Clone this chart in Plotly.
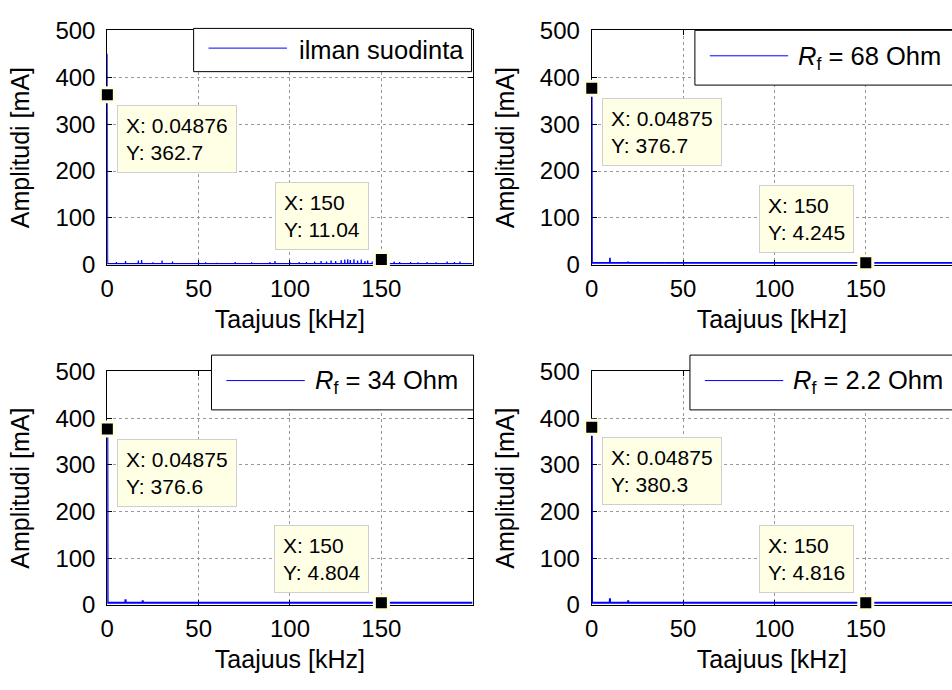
import plotly.graph_objects as go

W, H = 952, 690

# ---- spectra: frequency [kHz] and amplitude [mA] ----
f_ilman = [0, 0.04876, 0.2,
           4.9, 5.0, 5.1, 9.9, 10.0, 10.1, 16.9, 17.0, 17.1, 18.7, 18.8, 18.9,
           24.9, 25.0, 25.1, 29.9, 30.0, 30.1, 35.6, 35.7, 35.8, 49.9, 50.0, 50.1,
           53.7, 53.8, 53.9, 59.9, 60.0, 60.1, 69.9, 70.0, 70.1, 78.9, 79.0, 79.1,
           88.9, 89.0, 89.1, 91.7, 91.8, 91.9, 99.9, 100.0, 100.1, 104.9, 105.0, 105.1,
           108.9, 109.0, 109.1, 113.4, 113.5, 113.6, 116.9, 117.0, 117.1, 119.9, 120.0, 120.1,
           122.4, 122.5, 122.6, 124.9, 125.0, 125.1, 127.9, 128.0, 128.1, 129.9, 130.0, 130.1,
           131.5, 131.6, 131.7, 132.9, 133.0, 133.1, 134.9, 135.0, 135.1, 136.9, 137.0, 137.1,
           138.9, 139.0, 139.1, 140.9, 141.0, 141.1, 142.4, 142.5, 142.6, 144.9, 145.0, 145.1,
           149.9, 150.0, 150.1, 156.9, 157.0, 157.1, 159.9, 160.0, 160.1, 165.9, 166.0, 166.1,
           169.9, 170.0, 170.1, 174.9, 175.0, 175.1, 179.9, 180.0, 180.1, 185.9, 186.0, 186.1,
           189.9, 190.0, 190.1, 192.9, 193.0, 193.1, 199.9]
a_ilman = [450, 362.7, 2.5,
           2.5, 6, 2.5, 2.5, 8, 2.5, 2.5, 9, 2.5, 2.5, 10, 2.5,
           2.5, 5, 2.5, 2.5, 9, 2.5, 2.5, 7, 2.5, 2.5, 6, 2.5,
           2.5, 5, 2.5, 2.5, 4, 2.5, 2.5, 6, 2.5, 2.5, 5, 2.5,
           2.5, 6, 2.5, 2.5, 8, 2.5, 2.5, 5, 2.5, 2.5, 6, 2.5,
           2.5, 6, 2.5, 2.5, 7, 2.5, 2.5, 8, 2.5, 2.5, 7, 2.5,
           2.5, 9, 2.5, 2.5, 8, 2.5, 2.5, 10, 2.5, 2.5, 11, 2.5,
           2.5, 12, 2.5, 2.5, 10, 2.5, 2.5, 12, 2.5, 2.5, 9, 2.5,
           2.5, 11, 2.5, 2.5, 8, 2.5, 2.5, 9, 2.5, 2.5, 7, 2.5,
           2.5, 11.04, 2.5, 2.5, 7, 2.5, 2.5, 6, 2.5, 2.5, 6, 2.5,
           2.5, 5, 2.5, 2.5, 6, 2.5, 2.5, 5, 2.5, 2.5, 7, 2.5,
           2.5, 6, 2.5, 2.5, 7, 2.5, 2.5]

f_68 = [0, 0.04875, 0.2, 9.9, 10.0, 10.1, 19.9, 20.0, 20.1, 29.9, 30.0, 30.1,
        39.9, 40.0, 40.1, 149.9, 150.0, 150.1, 199.9]
a_68 = [5, 376.7, 4, 4, 15, 4, 4, 7, 4, 4, 5.5, 4,
        4, 5, 4, 4, 4.245, 4, 4]

f_34 = [0, 0.04875, 0.2, 9.9, 10.0, 10.1, 19.3, 19.4, 19.5, 30.7, 30.8, 30.9,
        49.9, 50.0, 50.1, 69.9, 70.0, 70.1, 99.9, 100.0, 100.1, 131.5, 131.6, 131.7,
        149.9, 150.0, 150.1, 170.5, 170.6, 170.7, 199.9]
a_34 = [5, 376.6, 4.8, 4.8, 12, 4.8, 4.8, 10, 4.8, 4.8, 6.5, 4.8,
        4.8, 6, 4.8, 4.8, 6.5, 4.8, 4.8, 6, 4.8, 4.8, 6.5, 4.8,
        4.8, 4.804, 4.8, 4.8, 6.5, 4.8, 4.8]

f_22 = [0, 0.04875, 0.2, 9.9, 10.0, 10.1, 19.9, 20.0, 20.1, 29.9, 30.0, 30.1,
        49.9, 50.0, 50.1, 68.9, 69.0, 69.1, 99.9, 100.0, 100.1, 129.9, 130.0, 130.1,
        149.9, 150.0, 150.1, 169.9, 170.0, 170.1, 199.9]
a_22 = [5, 380.3, 4.8, 4.8, 14, 4.8, 4.8, 10, 4.8, 4.8, 6.5, 4.8,
        4.8, 6, 4.8, 4.8, 6.5, 4.8, 4.8, 6, 4.8, 4.8, 6.5, 4.8,
        4.8, 4.816, 4.8, 4.8, 6.5, 4.8, 4.8]

# data cursor points (x, y, x label, y label)
tips_ilman = [(0.04876, 362.7, "0.04876", "362.7"), (150, 11.04, "150", "11.04")]
tips_68 = [(0.04875, 376.7, "0.04875", "376.7"), (150, 4.245, "150", "4.245")]
tips_34 = [(0.04875, 376.6, "0.04875", "376.6"), (150, 4.804, "150", "4.804")]
tips_22 = [(0.04875, 380.3, "0.04875", "380.3"), (150, 4.816, "150", "4.816")]

legend_names = ["ilman suodinta",
                "<i>R</i><sub>f</sub> = 68 Ohm",
                "<i>R</i><sub>f</sub> = 34 Ohm",
                "<i>R</i><sub>f</sub> = 2.2 Ohm"]

x_ticks = [0, 50, 100, 150]
y_ticks = [0, 100, 200, 300, 400, 500]

FONT = "Arial, Liberation Sans, Helvetica, sans-serif"
BLUE = "#0000ff"
TIP_BG = "#ffffe6"
TICK_SIZE = 24
LABEL_SIZE = 25
LEGEND_SIZE = 25.5
TIP_SIZE = 21


def px(xpx):
    return xpx / W


def py(ypx):
    return 1 - ypx / H


# panel geometry in pixels: left, right, top, bottom
cols = [(101, 469), (589, 952)]
rows = [(17, 261), (372, 615)]
XMAX_FULL = 199.9
scale = (cols[0][1] - cols[0][0]) / XMAX_FULL

panels = [
    dict(f=f_ilman, a=a_ilman, tips=tips_ilman, col=0, row=0, lw=1.2,
         leg=(188, 468, 15, 60), legline=(203, 282), legtext=292),
    dict(f=f_68, a=a_68, tips=tips_68, col=1, row=0, lw=1.6,
         leg=(693, 960, 17, 74), legline=(708, 787), legtext=795),
    dict(f=f_34, a=a_34, tips=tips_34, col=0, row=1, lw=2,
         leg=(206, 470, 355, 412), legline=(221, 300), legtext=308),
    dict(f=f_22, a=a_22, tips=tips_22, col=1, row=1, lw=2,
         leg=(688, 960, 355, 412), legline=(703, 782), legtext=790),
]

fig = go.Figure()
shapes = []
annotations = []

for i, p in enumerate(panels):
    n = "" if i == 0 else str(i + 1)
    xa, ya = "x" + n, "y" + n
    left, right = cols[p["col"]]
    top, bottom = rows[p["row"]]
    xmax = (right - left) / scale

    fig.add_trace(go.Scatter(
        x=p["f"], y=p["a"], mode="lines", name=legend_names[i],
        line=dict(color=BLUE, width=p["lw"]), xaxis=xa, yaxis=ya,
        showlegend=False, hoverinfo="skip", cliponaxis=False))

    tx = [t[0] for t in p["tips"]]
    ty = [t[1] for t in p["tips"]]
    fig.add_trace(go.Scatter(
        x=tx, y=ty, mode="markers", xaxis=xa, yaxis=ya, showlegend=False,
        hoverinfo="skip", cliponaxis=False,
        marker=dict(symbol="square", size=14, color="black",
                    line=dict(color=TIP_BG, width=3))))

    axis_common = dict(showgrid=True, gridcolor="#999999", griddash="dot",
                       gridwidth=1, zeroline=False, showline=True,
                       linecolor="black", linewidth=1, ticks="inside",
                       ticklen=5, tickcolor="black", layer="below traces",
                       tickfont=dict(family=FONT, size=TICK_SIZE, color="black"))
    fig.update_layout(**{
        ("xaxis" + n): dict(
            axis_common, domain=[px(left), min(px(right), 1.0)],
            anchor=ya, range=[0, xmax], tickvals=x_ticks,
            mirror="ticks", ticklabelstandoff=2,
            title=dict(text="Taajuus [kHz]", standoff=9,
                       font=dict(family=FONT, size=LABEL_SIZE, color="black"))),
        ("yaxis" + n): dict(
            axis_common, domain=[py(bottom), py(top)], anchor=xa,
            range=[0, 500], tickvals=y_ticks, ticklabelstandoff=6,
            mirror="ticks" if p["col"] == 0 else False,
            title=dict(text="Amplitudi [mA]", standoff=18,
                       font=dict(family=FONT, size=LABEL_SIZE, color="black"))),
    })

    # legend box
    l0, l1, t0, t1 = p["leg"]
    shapes.append(dict(type="rect", xref="paper", yref="paper",
                       x0=px(l0), x1=px(l1), y0=py(t1), y1=py(t0),
                       fillcolor="white", line=dict(color="black", width=1),
                       layer="above"))
    ymid = (t0 + t1) / 2
    shapes.append(dict(type="line", xref="paper", yref="paper",
                       x0=px(p["legline"][0]), x1=px(p["legline"][1]),
                       y0=py(ymid - 2), y1=py(ymid - 2),
                       line=dict(color=BLUE, width=1), layer="above"))
    annotations.append(dict(xref="paper", yref="paper", x=px(p["legtext"]),
                            y=py(ymid), xanchor="left", yanchor="middle",
                            text=legend_names[i], showarrow=False,
                            font=dict(family=FONT, size=LEGEND_SIZE, color="black")))

    # data cursor boxes
    for k, (x, y, xs, ys) in enumerate(p["tips"]):
        first = k == 0
        annotations.append(dict(
            xref=xa, yref=ya, x=x, y=y, showarrow=False,
            text=f"X: {xs}<br>Y: {ys}", align="left",
            xanchor="left" if first else "right",
            yanchor="top" if first else "bottom",
            xshift=10 if first else -12, yshift=-10 if first else 10,
            bgcolor=TIP_BG, bordercolor="#cfcfcf", borderwidth=1, borderpad=8,
            font=dict(family=FONT, size=TIP_SIZE, color="black")))

fig.update_layout(width=W, height=H, margin=dict(l=0, r=0, t=0, b=0),
                  paper_bgcolor="white", plot_bgcolor="white",
                  shapes=shapes, annotations=annotations, showlegend=False)

fig.write_html("out.html", config={"displayModeBar": False})
